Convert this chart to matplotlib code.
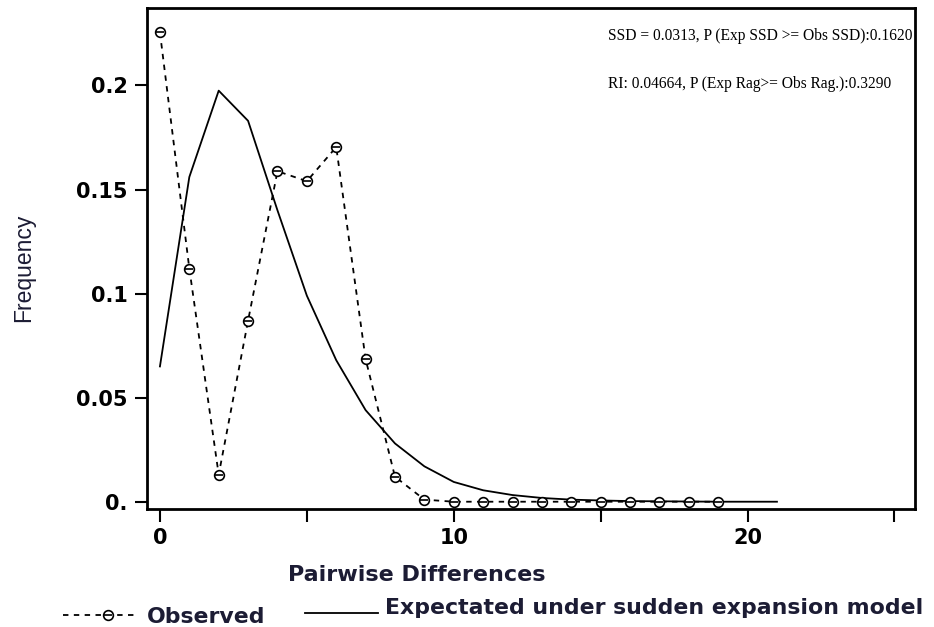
import matplotlib
matplotlib.use("Agg")
import matplotlib.pyplot as plt
from matplotlib.lines import Line2D

# observed mismatch distribution
obs_x = list(range(20))
obs_y = [0.2255, 0.112, 0.013, 0.087, 0.1588, 0.154, 0.1704, 0.0685, 0.012, 0.001,
         0, 0, 0, 0, 0, 0, 0, 0, 0, 0]

# expected under sudden expansion
exp_x = list(range(22))
exp_y = [0.065, 0.156, 0.1975, 0.183, 0.140, 0.099, 0.068, 0.044, 0.028, 0.017,
         0.0095, 0.0055, 0.0032, 0.0018, 0.001, 0.0006, 0.0003, 0.0002, 0.0001, 0.0, 0.0, 0.0]

xticks = [0, 5, 10, 15, 20, 25]
xticklabels = ['0', '', '10', '', '20', '']
yticks = [0, 0.05, 0.1, 0.15, 0.2]
yticklabels = ['0.', '0.05', '0.1', '0.15', '0.2']

txt1 = 'SSD = 0.0313, P (Exp SSD >= Obs SSD):0.1620'
txt2 = 'RI: 0.04664, P (Exp Rag>= Obs Rag.):0.3290'

labcol = '#1c1c34'
sans = 'DejaVu Sans'

fig = plt.figure(figsize=(9.34, 6.27), dpi=100)
ax = fig.add_axes([0.1574, 0.1882, 0.8223, 0.799])

ax.plot(exp_x, exp_y, color='black', lw=1.3)
ax.plot(obs_x, obs_y, color='black', lw=1.3, ls=(0, (3, 3)))
ax.plot(obs_x, obs_y, ls='none', marker='o', ms=7, mfc='white', mec='black', mew=1.2)
ax.plot(obs_x, obs_y, ls='none', marker='_', ms=6, mec='black', mew=1.2)

ax.set_xlim(-0.44, 25.7)
ax.set_ylim(-0.0035, 0.2372)
ax.set_xticks(xticks)
ax.set_xticklabels(xticklabels)
ax.set_yticks(yticks)
ax.set_yticklabels(yticklabels)
for lab in ax.get_xticklabels() + ax.get_yticklabels():
    lab.set_fontweight('bold')
    lab.set_fontsize(15)
    lab.set_family(sans)
ax.tick_params(direction='out', length=9, width=1.5, pad=5)
for s in ax.spines.values():
    s.set_linewidth(2)

ax.text(0.600, 0.944, txt1, transform=ax.transAxes, ha='left', va='center',
        family='Liberation Serif', fontsize=11.2)
ax.text(0.600, 0.848, txt2, transform=ax.transAxes, ha='left', va='center',
        family='Liberation Serif', fontsize=11.2)

fig.text(0.025, 0.573, 'Frequency', rotation=90, ha='center', va='center',
         fontsize=16.5, family='Liberation Sans', color=labcol)
fig.text(0.446, 0.083, 'Pairwise Differences', ha='center', va='center',
         fontsize=16, fontweight='bold', family=sans, color=labcol)

# legend along the bottom
l1 = Line2D([0.067, 0.148], [0.019, 0.019], transform=fig.transFigure, color='black',
            lw=1.3, ls=(0, (3, 3)))
m1 = Line2D([0.116], [0.019], transform=fig.transFigure, ls='none', marker='o', ms=7,
            mfc='white', mec='black', mew=1.2)
m2 = Line2D([0.116], [0.019], transform=fig.transFigure, ls='none', marker='_', ms=6,
            mec='black', mew=1.2)
l2 = Line2D([0.327, 0.405], [0.023, 0.023], transform=fig.transFigure, color='black', lw=1.3)
fig.lines.extend([l1, m1, m2, l2])
fig.text(0.157, 0.016, 'Observed', ha='left', va='center',
         fontsize=15.8, fontweight='bold', family=sans, color=labcol)
fig.text(0.412, 0.030, 'Expectated under sudden expansion model', ha='left', va='center',
         fontsize=15.8, fontweight='bold', family=sans, color=labcol)

fig.savefig('out.png', dpi=100)
